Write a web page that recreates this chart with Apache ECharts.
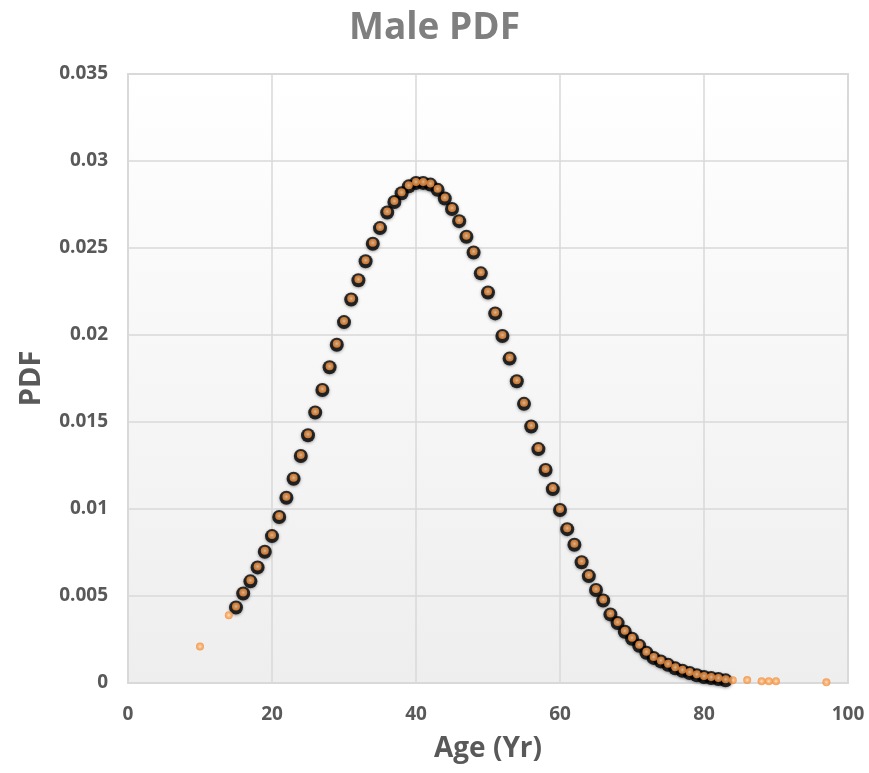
<!DOCTYPE html>
<html>
<head>
<meta charset="utf-8">
<script src="https://cdn.jsdelivr.net/npm/echarts@6/dist/echarts.min.js"></script>
<style>
  html, body { margin: 0; padding: 0; background: #fff; }
  #chart { width: 869px; height: 773px; }
</style>
</head>
<body>
<div id="chart"></div>
<script>
// ages (yr) and pdf values
var ages = [10, 14, 15, 16, 17, 18, 19, 20, 21, 22, 23, 24, 25, 26, 27, 28, 29, 30,
    31, 32, 33, 34, 35, 36, 37, 38, 39, 40, 41, 42, 43, 44, 45, 46, 47, 48, 49, 50,
    51, 52, 53, 54, 55, 56, 57, 58, 59, 60, 61, 62, 63, 64, 65, 66, 67, 68, 69, 70,
    71, 72, 73, 74, 75, 76, 77, 78, 79, 80, 81, 82, 83, 84, 86, 88, 89, 90, 97];
var pdf = [0.0021, 0.0039, 0.0044, 0.0052, 0.0059, 0.0067, 0.0076, 0.0085, 0.0096, 0.0107,
    0.0118, 0.0131, 0.0143, 0.0156, 0.0169, 0.0182, 0.0195, 0.0208, 0.0221, 0.0232,
    0.0243, 0.0253, 0.0262, 0.0271, 0.0277, 0.0282, 0.0286, 0.0288, 0.0288, 0.0287,
    0.0284, 0.0279, 0.0273, 0.0266, 0.0257, 0.0248, 0.0236, 0.0225, 0.0213, 0.0200,
    0.0187, 0.0174, 0.0161, 0.0148, 0.0135, 0.0123, 0.0112, 0.0100, 0.0089, 0.0080,
    0.0070, 0.0062, 0.0054, 0.0048, 0.0040, 0.0035, 0.0030, 0.0026, 0.0022, 0.0018,
    0.0015, 0.0013, 0.0011, 0.0009, 0.00076, 0.00063, 0.0005, 0.0004, 0.00034, 0.00029,
    0.00021, 0.00016, 0.00017, 0.0001, 0.0001, 0.0001, 0.00004];
// black (fitted) markers only span these ages
var fitFrom = 15, fitTo = 83;

var xTicks = [0, 20, 40, 60, 80, 100];
var yTicks = [0, 0.005, 0.01, 0.015, 0.02, 0.025, 0.03, 0.035];

var dataPts = [];
var fitPts = [];
for (var i = 0; i < ages.length; i++) {
    dataPts.push([ages[i], pdf[i]]);
    if (ages[i] >= fitFrom && ages[i] <= fitTo) {
        fitPts.push([ages[i], pdf[i]]);
    }
}

var labelStyle = {
    color: '#595959',
    fontFamily: 'Open Sans',
    fontWeight: 'bold',
    fontSize: 19
};

var chart = echarts.init(document.getElementById('chart'));
var option = {
    animation: false,
    title: {
        text: 'Male PDF',
        left: 'center',
        top: 5,
        textStyle: {
            color: '#7f7f7f',
            fontFamily: 'Open Sans',
            fontWeight: 'bold',
            fontSize: 37
        }
    },
    grid: {
        left: 128,
        right: 21,
        top: 74,
        bottom: 90,
        show: true,
        borderColor: '#d9d9d9',
        borderWidth: 2,
        backgroundColor: new echarts.graphic.LinearGradient(0, 0, 0, 1, [
            {offset: 0, color: '#ffffff'},
            {offset: 1, color: '#eeeeee'}
        ])
    },
    xAxis: {
        type: 'value',
        min: xTicks[0],
        max: xTicks[xTicks.length - 1],
        interval: 20,
        name: 'Age (Yr)',
        nameLocation: 'middle',
        nameGap: 52,
        nameTextStyle: {
            color: '#595959',
            fontFamily: 'Open Sans',
            fontWeight: 'bold',
            fontSize: 28
        },
        axisLine: {show: false},
        axisTick: {show: false},
        axisLabel: Object.assign({margin: 22}, labelStyle),
        splitLine: {lineStyle: {color: '#d9d9d9', width: 1.5}}
    },
    yAxis: {
        type: 'value',
        min: yTicks[0],
        max: yTicks[yTicks.length - 1],
        interval: 0.005,
        name: 'PDF',
        nameLocation: 'middle',
        nameGap: 82,
        nameTextStyle: {
            color: '#595959',
            fontFamily: 'Open Sans',
            fontWeight: 'bold',
            fontSize: 29
        },
        axisLine: {show: false},
        axisTick: {show: false},
        axisLabel: Object.assign({margin: 20}, labelStyle),
        splitLine: {lineStyle: {color: '#d9d9d9', width: 1.5}}
    },
    series: [
        {
            name: 'fit',
            type: 'scatter',
            data: fitPts,
            symbol: 'circle',
            symbolSize: 14,
            symbolOffset: [0, 1],
            z: 2,
            itemStyle: {
                color: '#000000',
                shadowColor: 'rgba(0,0,0,0.45)',
                shadowBlur: 3,
                shadowOffsetY: 1
            }
        },
        {
            name: 'data',
            type: 'scatter',
            data: dataPts,
            symbol: 'circle',
            symbolSize: 8,
            z: 3,
            itemStyle: {
                color: new echarts.graphic.RadialGradient(0.5, 0.5, 0.5, [
                    {offset: 0, color: '#ffe2c4'},
                    {offset: 0.45, color: '#ffa95e'},
                    {offset: 1, color: '#f08a35'}
                ])
            }
        }
    ]
};
chart.setOption(option);
</script>
</body>
</html>
